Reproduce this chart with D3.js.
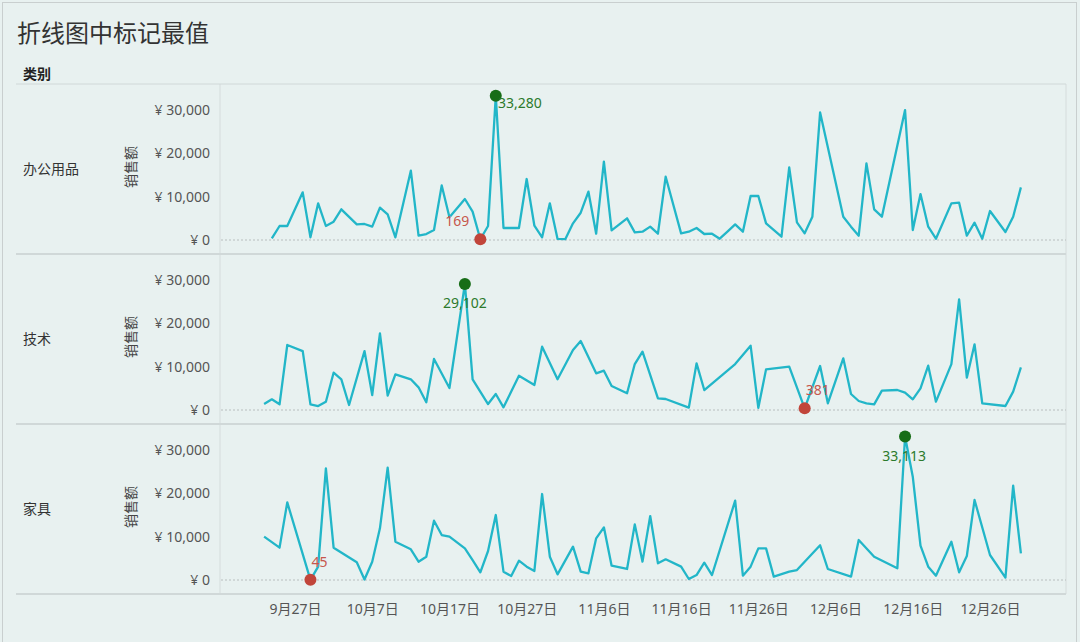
<!DOCTYPE html>
<html>
<head>
<meta charset="utf-8">
<script src="https://cdn.jsdelivr.net/npm/d3@7"></script>
<style>
  body { margin: 0; background: #e8f1f0; }
  text { font-family: "Noto Sans", "Noto Sans CJK SC", sans-serif; }
</style>
</head>
<body>
<div id="chart"></div>
<script>
// categories
var categories = ['办公用品', '技术', '家具'];

// 办公用品
var officeDates = ['09-24','09-25','09-26','09-28','09-29','09-30','10-01','10-02','10-03','10-05','10-06','10-07','10-08','10-09','10-10','10-12','10-13','10-14','10-15','10-16','10-17','10-19','10-20','10-21','10-22','10-23','10-24','10-26','10-27','10-28','10-29','10-30','10-31','11-01','11-02','11-03','11-04','11-05','11-06','11-07','11-09','11-10','11-11','11-12','11-13','11-14','11-16','11-17','11-18','11-19','11-20','11-21','11-22','11-23','11-24','11-25','11-26','11-27','11-29','11-30','12-01','12-02','12-03','12-04','12-07','12-08','12-09','12-10','12-11','12-12','12-15','12-16','12-17','12-18','12-19','12-21','12-22','12-23','12-24','12-25','12-26','12-28','12-29','12-30'];
var officeSales = [400,3230,3230,11000,615,8460,3230,4230,7080,3600,3700,3080,7460,5920,615,16000,1000,1380,2300,12600,5230,9460,6540,169,3230,33280,2770,2770,14070,3300,615,8460,250,200,3850,6300,11150,1460,18070,2230,5000,1770,1920,3080,1460,14600,1540,1920,2770,1380,1460,300,1920,3600,1920,10150,10150,3850,770,16760,4080,1540,5380,29450,5380,3080,1000,17690,7080,5380,29990,2300,10600,3080,300,8460,8610,1000,4000,300,6690,1850,5380,12150];

// 技术
var techDates = ['09-23','09-24','09-25','09-26','09-28','09-29','09-30','10-01','10-02','10-03','10-04','10-06','10-07','10-08','10-09','10-10','10-12','10-13','10-14','10-15','10-17','10-19','10-20','10-22','10-23','10-24','10-26','10-28','10-29','10-31','11-02','11-03','11-05','11-06','11-07','11-09','11-10','11-11','11-13','11-14','11-17','11-18','11-19','11-23','11-25','11-26','11-27','11-30','12-02','12-04','12-05','12-07','12-08','12-09','12-10','12-11','12-12','12-14','12-15','12-16','12-17','12-18','12-19','12-21','12-22','12-23','12-24','12-25','12-28','12-29','12-30'];
var techSales = [1380,2460,1310,15000,13600,1310,920,1920,8610,7080,1150,13600,3460,17690,3300,8230,7080,5230,1770,11770,5080,29102,7080,1380,3690,615,7920,5770,14600,7080,13840,15920,8460,9070,5540,3850,10600,13460,2690,2540,540,10770,4610,10600,14840,500,9380,10000,381,10150,1540,11920,3690,2080,1540,1310,4460,4610,4000,2460,5000,10230,1920,10600,25530,7460,15150,1540,920,4230,9840];

// 家具
var furnDates = ['09-23','09-25','09-26','09-29','09-30','10-01','10-02','10-05','10-06','10-07','10-08','10-09','10-10','10-12','10-13','10-14','10-15','10-16','10-17','10-19','10-20','10-21','10-22','10-23','10-24','10-25','10-26','10-27','10-28','10-29','10-30','10-31','11-02','11-03','11-04','11-05','11-06','11-07','11-09','11-10','11-11','11-12','11-13','11-14','11-16','11-17','11-18','11-19','11-20','11-23','11-24','11-25','11-26','11-27','11-28','11-30','12-01','12-04','12-05','12-08','12-09','12-11','12-14','12-15','12-16','12-17','12-18','12-19','12-21','12-22','12-23','12-24','12-26','12-28','12-29','12-30'];
var furnSales = [10000,7460,17900,45,3080,25780,7460,4080,100,4230,11920,25920,8840,7080,4230,5380,13690,10380,10000,7300,4600,1770,6690,15000,1920,920,4460,3080,2080,19840,5380,1310,7690,1920,1540,9610,12150,3300,2540,12840,4230,14760,3850,4770,3080,230,1150,4000,1150,18300,1000,3080,7300,7300,770,1920,2300,8000,2540,770,9230,5380,2690,33113,23840,7920,3080,1000,8840,1770,5540,18460,5770,540,21760,6150];

// axis ticks
var xTickDates = ['09-27','10-07','10-17','10-27','11-06','11-16','11-26','12-06','12-16','12-26'];
var xTickLabels = ['9月27日','10月7日','10月17日','10月27日','11月6日','11月16日','11月26日','12月6日','12月16日','12月26日'];
var yTickValues = [0, 10000, 20000, 30000];
var yTickLabels = ['¥ 0', '¥ 10,000', '¥ 20,000', '¥ 30,000'];

var seriesDates = [officeDates, techDates, furnDates];
var seriesSales = [officeSales, techSales, furnSales];

// label placement of max / min marks (dx, dy from dot centre)
var maxLabelPos = [{dx: 24, dy: 7}, {dx: 0, dy: 19}, {dx: -1, dy: 19}];
var minLabelPos = [{dx: -23, dy: -19}, {dx: 13, dy: -19}, {dx: 9, dy: -18}];

var width = 1080, height = 642;
var plotLeft = 220, plotRight = 1066;
var headerY = 84, rowH = 170;

var parse = d3.timeParse('%m-%d');

var svg = d3.select('#chart').append('svg')
    .attr('width', width)
    .attr('height', height);

// outer frame
svg.append('rect')
    .attr('x', 2.5).attr('y', 2.5)
    .attr('width', 1074).attr('height', 645)
    .attr('fill', '#e8f1f0')
    .attr('stroke', '#c9cfcf');

svg.append('text')
    .attr('x', 17).attr('y', 32)
    .attr('dominant-baseline', 'central')
    .style('font-size', '24px')
    .style('fill', '#333')
    .text('折线图中标记最值');

svg.append('text')
    .attr('x', 23).attr('y', 73)
    .attr('dominant-baseline', 'central')
    .style('font-size', '14px')
    .style('font-weight', 'bold')
    .style('fill', '#222')
    .text('类别');

// x scale: Sep 27 -> 295, Dec 26 -> 990
var x = d3.scaleTime()
    .domain([parse('09-27'), parse('12-26')])
    .range([295, 990]);

var y = d3.scaleLinear()
    .domain([0, 30000])
    .range([156, 26]);

var line = d3.line()
    .x(d => x(d.date))
    .y(d => y(d.value));

// grid frame lines
svg.append('line')
    .attr('x1', plotLeft).attr('x2', plotLeft)
    .attr('y1', headerY).attr('y2', headerY + rowH * 3)
    .attr('stroke', '#d5dcdc');
svg.append('line')
    .attr('x1', plotRight).attr('x2', plotRight)
    .attr('y1', headerY).attr('y2', headerY + rowH * 3)
    .attr('stroke', '#d5dcdc');

for (var r = 0; r <= 3; r++) {
    svg.append('line')
        .attr('x1', 16).attr('x2', plotRight)
        .attr('y1', headerY + r * rowH).attr('y2', headerY + r * rowH)
        .attr('stroke', '#d0d8d8')
        .attr('stroke-width', r === 0 ? 1 : 2);
}

categories.forEach(function(cat, i) {
    var data = seriesDates[i].map((d, j) => ({date: parse(d), value: seriesSales[i][j]}));

    var g = svg.append('g')
        .attr('transform', `translate(0,${headerY + i * rowH})`);

    g.append('text')
        .attr('x', 23).attr('y', 84)
        .attr('dominant-baseline', 'central')
        .style('font-size', '14px')
        .style('fill', '#333')
        .text(cat);

    g.append('text')
        .attr('transform', 'translate(130,83) rotate(-90)')
        .attr('text-anchor', 'middle')
        .attr('dominant-baseline', 'central')
        .style('font-size', '14px')
        .style('fill', '#444')
        .text('销售额');

    // y axis
    var yAxis = d3.axisLeft(y)
        .tickValues(yTickValues)
        .tickSize(0)
        .tickPadding(10)
        .tickFormat((d, k) => yTickLabels[k]);
    var ya = g.append('g')
        .attr('transform', `translate(${plotLeft},0)`)
        .call(yAxis);
    ya.select('.domain').remove();
    ya.selectAll('text')
        .style('font-size', '14px')
        .style('fill', '#555')
        .style('font-family', '"Noto Sans", "Noto Sans CJK SC", sans-serif');

    // zero line
    g.append('line')
        .attr('x1', plotLeft + 1).attr('x2', plotRight)
        .attr('y1', y(0)).attr('y2', y(0))
        .attr('stroke', '#b8bebe')
        .attr('stroke-dasharray', '2,2');

    g.append('path')
        .datum(data)
        .attr('fill', 'none')
        .attr('stroke', '#22b6c8')
        .attr('stroke-width', 2.3)
        .attr('stroke-linejoin', 'round')
        .attr('d', line);

    var maxD = d3.greatest(data, d => d.value);
    var minD = d3.least(data, d => d.value);

    g.append('circle')
        .attr('cx', x(maxD.date)).attr('cy', y(maxD.value))
        .attr('r', 6)
        .attr('fill', '#176d17');
    g.append('text')
        .attr('x', x(maxD.date) + maxLabelPos[i].dx)
        .attr('y', y(maxD.value) + maxLabelPos[i].dy)
        .attr('text-anchor', 'middle')
        .attr('dominant-baseline', 'central')
        .style('font-size', '14px')
        .style('fill', '#2c7a2c')
        .text(d3.format(',')(maxD.value));

    g.append('circle')
        .attr('cx', x(minD.date)).attr('cy', y(minD.value))
        .attr('r', 6)
        .attr('fill', '#c1453a');
    g.append('text')
        .attr('x', x(minD.date) + minLabelPos[i].dx)
        .attr('y', y(minD.value) + minLabelPos[i].dy)
        .attr('text-anchor', 'middle')
        .attr('dominant-baseline', 'central')
        .style('font-size', '14px')
        .style('fill', '#c6574d')
        .text(d3.format(',')(minD.value));
});

// x axis
var xAxis = d3.axisBottom(x)
    .tickValues(xTickDates.map(parse))
    .tickSize(0)
    .tickPadding(10)
    .tickFormat((d, k) => xTickLabels[k]);
var xa = svg.append('g')
    .attr('transform', `translate(0,${headerY + rowH * 3})`)
    .call(xAxis);
xa.select('.domain').remove();
xa.selectAll('text')
    .style('font-size', '14px')
    .style('fill', '#555')
    .style('font-family', '"Noto Sans", "Noto Sans CJK SC", sans-serif');
</script>
</body>
</html>
